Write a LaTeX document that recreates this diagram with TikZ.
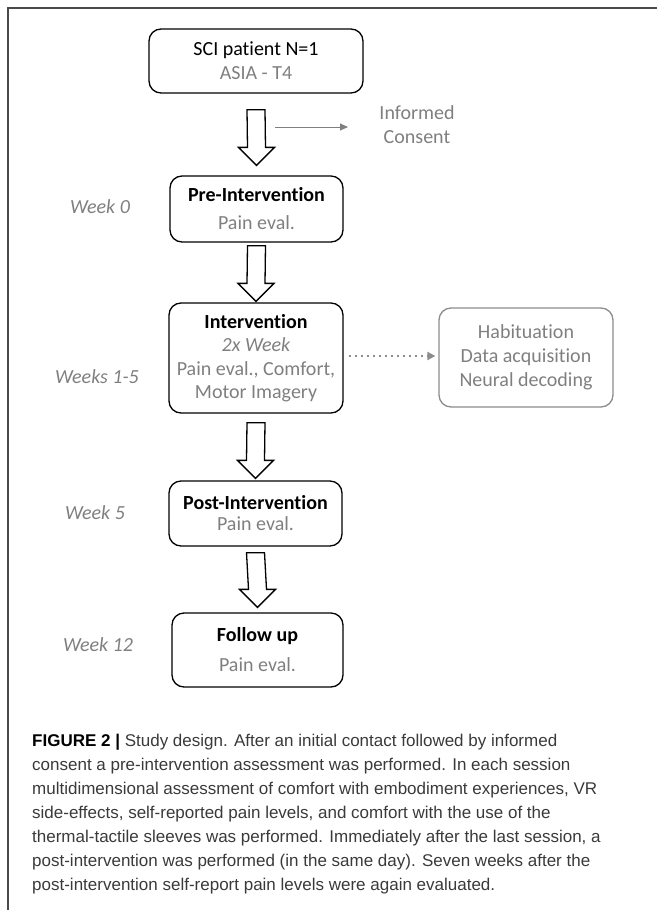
\documentclass[tikz,border=0pt]{standalone}
\usepackage{fontspec}
\setmainfont{Carlito}[Ligatures=NoCommon]
\newfontfamily\capfont{Liberation Sans}
\usetikzlibrary{calc}
\usetikzlibrary{arrows.meta}

\definecolor{txtgray}{HTML}{7F7F7F}
\definecolor{boxgray}{HTML}{8C8C8C}
\definecolor{capgray}{HTML}{3A3A3A}
\definecolor{framegray}{HTML}{4A4A4A}

\newcommand{\grey}[1]{{\color{txtgray}#1}}
% hollow block arrow from #1 (top) down to #2 (tip)
\newcommand{\blockarrow}[2]{%
  \draw [line width=1.3pt, line join=miter] ($(#1)+(-9,0)$) -- ($(#2)+(-9,-18)$) -- ($(#2)+(-18,-18)$)
    -- (#2) -- ($(#2)+(18,-18)$) -- ($(#2)+(9,-18)$) -- ($(#1)+(9,0)$) -- cycle;}

\begin{document}
\begin{tikzpicture}[x=1pt,y=-1pt,
    every node/.style={font=\fontsize{20}{24}\selectfont},
    box/.style={draw, rounded corners=12pt, line width=1.3pt, align=center, inner sep=0pt},
    sidebox/.style={box, draw=boxgray, text=txtgray},
    week/.style={text=txtgray, font=\fontsize{20}{24}\selectfont\itshape},
    thin/.style={draw=txtgray, line width=1pt, -{Triangle[length=8pt,width=7pt]}},
    dots/.style={draw=boxgray, line width=2.5pt, dash pattern=on 2.5pt off 3.5pt,
      -{Triangle[length=8pt,width=8pt]}}]
    \useasboundingbox (0,0) rectangle (657,910);
    \draw [framegray, line width=1.5pt] (8,910) -- (8,8) -- (657,8);

    \node [box, minimum width=214pt, minimum height=64pt] (sci) at (256,61)
      {SCI patient N=1\\ \grey{ASIA - T4}};
    \node [box, minimum width=173pt, minimum height=66pt] (pre) at (256.5,209)
      {\textbf{Pre-Intervention}\\[4pt] \grey{Pain eval.}};
    \node [box, minimum width=174pt, minimum height=110pt] (int) at (256,358)
      {\textbf{Intervention}\\[-1pt] \grey{\itshape 2x Week}\\ \grey{Pain eval., Comfort,}\\[-1pt] \grey{Motor Imagery}};
    \node [box, minimum width=173pt, minimum height=65pt] (post) at (255.5,513.5)
      {\textbf{Post-Intervention}\\[-3pt] \grey{Pain eval.}};
    \node [box, minimum width=171pt, minimum height=74pt] (fol) at (257.5,650)
      {\textbf{Follow up}\\[6pt] \grey{Pain eval.}};
    \node [sidebox, minimum width=174pt, minimum height=99pt] (hab) at (526,357.5)
      {Habituation\\ Data acquisition\\ Neural decoding};

    \node [week] (w0) at (100,207) {Week 0};
    \node [week] (w15) at (97,377) {Weeks 1-5};
    \node [week] (w5) at (95,513) {Week 5};
    \node [week] (w12) at (98,645) {Week 12};

    \node [text=txtgray, align=center] (ic) at (417,125) {Informed\\ Consent};
    \coordinate (c1) at (275,127);
    \coordinate (c2) at (348,127);
    \draw [thin] (c1) -- (c2);

    \coordinate (a1) at ([yshift=-16pt]sci.south);
    \coordinate (b1) at ([yshift=10pt]pre.north);
    \coordinate (a2) at ([yshift=-3pt]pre.south);
    \coordinate (b2) at ([yshift=1pt]int.north);
    \coordinate (a3) at ([yshift=-9pt]int.south);
    \coordinate (b3) at ([yshift=2pt]post.north);
    \coordinate (a4) at ([yshift=-6pt]post.south);
    \coordinate (b4) at ([yshift=5pt]fol.north);
    \blockarrow{a1}{b1}
    \blockarrow{a2}{b2}
    \blockarrow{a3}{b3}
    \blockarrow{a4}{b4}

    \draw [dots] ([xshift=5pt,yshift=2pt]int.east) -- ([xshift=-3pt,yshift=1.5pt]hab.west);

    \node [anchor=north west, align=left, inner sep=0pt, text=capgray,
      font=\capfont\fontsize{17}{24}\selectfont] (cap) at (32,734)
      {{\color{black}\textbf{FIGURE 2 |}} Study design. After an initial contact followed by informed\\
       consent a pre-intervention assessment was performed. In each session\\
       multidimensional assessment of comfort with embodiment experiences, VR\\
       side-effects, self-reported pain levels, and comfort with the use of the\\
       thermal-tactile sleeves was performed. Immediately after the last session, a\\
       post-intervention was performed (in the same day). Seven weeks after the\\
       post-intervention self-report pain levels were again evaluated.};
\end{tikzpicture}
\end{document}
